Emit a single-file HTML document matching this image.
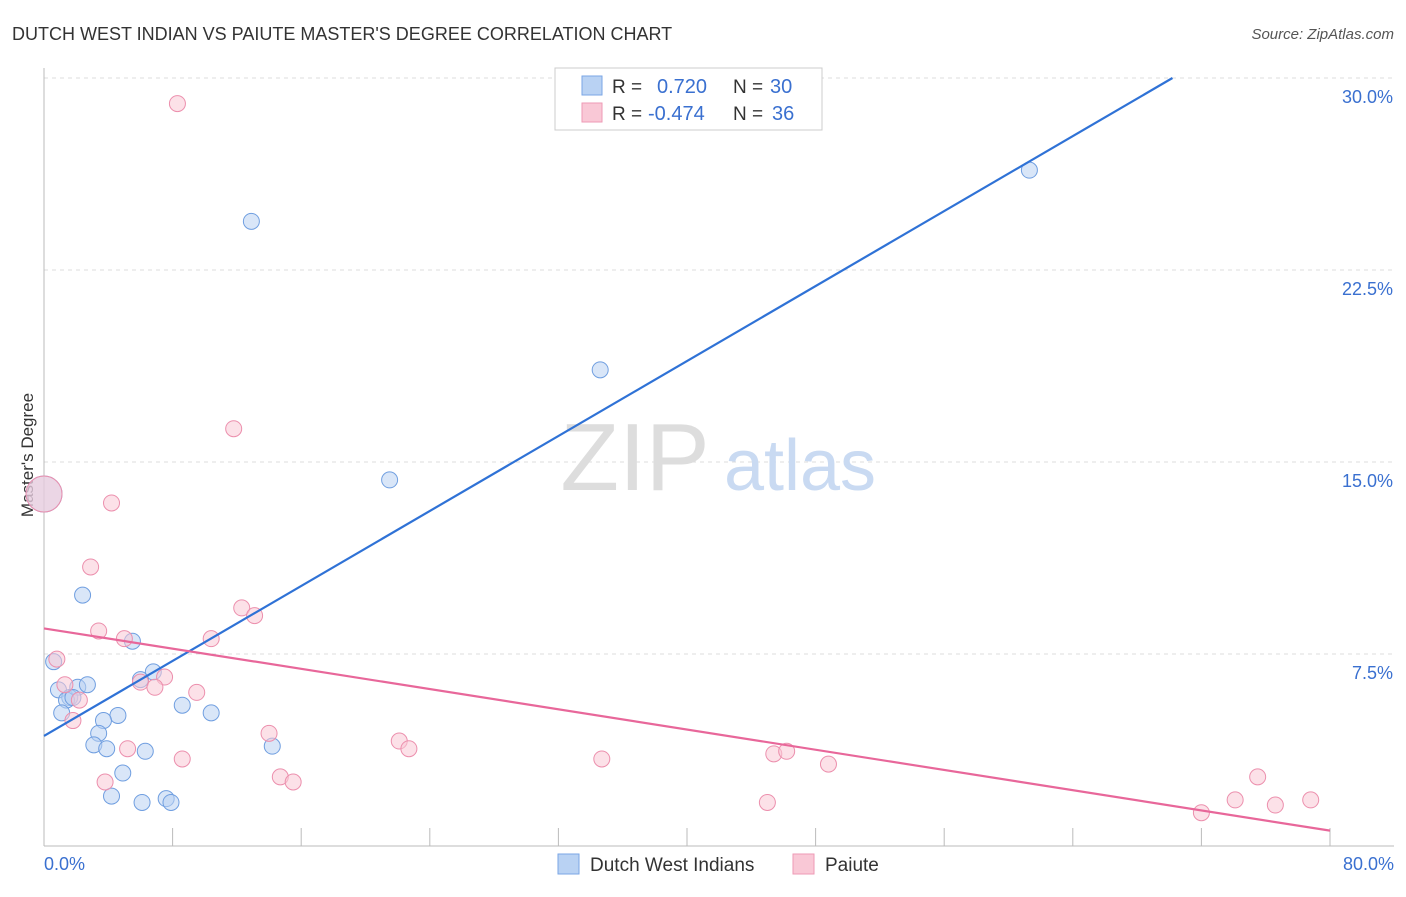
<!DOCTYPE html>
<html><head><meta charset="utf-8"><style>
body{margin:0;background:#fff;font-family:"Liberation Sans",sans-serif;}
svg text{font-family:"Liberation Sans",sans-serif;}
</style></head><body>
<svg width="1406" height="892">
<text x="12" y="40" font-size="18" fill="#333">DUTCH WEST INDIAN VS PAIUTE MASTER'S DEGREE CORRELATION CHART</text>
<text x="1394" y="39" font-size="15" fill="#555" font-style="italic" text-anchor="end">Source: ZipAtlas.com</text>
<g id="grid"></g>
<text x="635" y="490" font-size="96" fill="#ddd" font-family="Liberation Serif" text-anchor="middle">ZIP</text>
<text x="800" y="490" font-size="72" fill="#c9daf2" text-anchor="middle">atlas</text>
<text transform="translate(33,455) rotate(-90)" font-size="17" fill="#333" text-anchor="middle">Master's Degree</text>
<text x="44" y="870" font-size="18" fill="#3a70d0">0.0%</text>
<text x="1394" y="870" font-size="18" fill="#3a70d0" text-anchor="end">80.0%</text>
<g id="points"></g>
<g id="lines"></g>
<g>
<rect x="555" y="68" width="267" height="62" fill="#fff" stroke="#ccc"/>
<rect x="582" y="76" width="20" height="19" fill="#b9d2f3" stroke="#7aa6e6"/>
<text x="612" y="93" font-size="19" fill="#333">R =</text>
<text x="657" y="93" font-size="20" fill="#3a70d0">0.720</text>
<text x="733" y="93" font-size="19" fill="#333">N =</text>
<text x="770" y="93" font-size="20" fill="#3a70d0">30</text>
<rect x="582" y="103" width="20" height="19" fill="#f9c8d6" stroke="#ee9ab5"/>
<text x="612" y="120" font-size="19" fill="#333">R =</text>
<text x="648" y="120" font-size="20" fill="#3a70d0">-0.474</text>
<text x="733" y="120" font-size="19" fill="#333">N =</text>
<text x="772" y="120" font-size="20" fill="#3a70d0">36</text>
</g>
<g>
<rect x="558" y="854" width="21" height="20" fill="#b9d2f3" stroke="#7aa6e6"/>
<text x="590" y="871" font-size="19" fill="#333">Dutch West Indians</text>
<rect x="793" y="854" width="21" height="20" fill="#f9c8d6" stroke="#ee9ab5"/>
<text x="825" y="871" font-size="19" fill="#333">Paiute</text>
</g>
</svg>
<script>
const yTicks=[7.5,15,22.5,30];
const yTickLabels=["7.5%","15.0%","22.5%","30.0%"];
const xTicks=[0,8,16,24,32,40,48,56,64,72,80];
const blueX=[12.9,61.3,34.6,21.5,0,2.4,5.5,0.6,6.8,6,0.9,2.1,2.7,1.6,1.4,1.8,1.1,4.6,3.7,8.6,10.4,3.4,3.1,3.9,6.3,14.2,4.9,4.2,6.1,7.6,7.9];
const blueY=[24.4,26.4,18.6,14.3,13.75,9.8,8,7.2,6.8,6.5,6.1,6.2,6.3,5.8,5.7,5.8,5.2,5.1,4.9,5.5,5.2,4.4,3.95,3.8,3.7,3.9,2.85,1.95,1.7,1.85,1.7];
const pinkX=[8.3,11.8,4.2,2.9,12.3,13.1,3.4,5.0,10.4,0.8,1.3,2.2,6.0,7.5,6.9,9.5,1.8,14.0,5.2,8.6,22.1,22.7,34.7,14.7,15.5,3.8,45.4,46.2,48.8,45.0,75.5,74.1,76.6,78.8,72.0,0];
const pinkY=[29.0,16.3,13.4,10.9,9.3,9.0,8.4,8.1,8.1,7.3,6.3,5.7,6.4,6.6,6.2,6.0,4.9,4.4,3.8,3.4,4.1,3.8,3.4,2.7,2.5,2.5,3.6,3.7,3.2,1.7,2.7,1.8,1.6,1.8,1.3,13.75];
const blueLine=[[0,4.3],[70.2,30]];
const pinkLine=[[0,8.5],[80,0.6]];
const X0=44,X1=1330,Y0=846,Y1=78;
const xs=v=>X0+v/80*(X1-X0), ys=v=>Y0-v/30*(Y0-Y1);
const NS="http://www.w3.org/2000/svg";
const g=document.getElementById('grid');
function mk(t,a,p){const e=document.createElementNS(NS,t);for(const k in a)e.setAttribute(k,a[k]);p.appendChild(e);return e;}
yTicks.forEach((t,i)=>{
 const l=mk('line',{x1:X0,x2:1394,y1:ys(t),y2:ys(t),stroke:'#ddd','stroke-dasharray':'4,4'},g);
 
 
 const tx=mk('text',{x:1393,y:ys(t)+25,'font-size':18,fill:'#3a70d0','text-anchor':'end'},g);
 tx.textContent=yTickLabels[i];
 
 
});
const ax=mk('line',{x1:X0,x2:X0,y1:68,y2:Y0,stroke:'#bbb'},g);


const bx=mk('line',{x1:X0,x2:1394,y1:Y0,y2:Y0,stroke:'#bbb'},g);


xTicks.forEach(t=>{
 const l=mk('line',{x1:xs(t),x2:xs(t),y1:Y0,y2:Y0-18,stroke:'#bbb'},g);
 
 
});
const pg=document.getElementById('points');
function pts(X,Y,fill,stroke,name){X.forEach((x,i)=>{
 const big=(x===0&&Y[i]>13);
 const c=mk('circle',{cx:xs(x),cy:ys(Y[i]),r:big?18:8,fill:fill,'fill-opacity':0.55,stroke:stroke,'stroke-width':1},pg);
 
 
});}
pts(blueX,blueY,'#b9d2f3','#6f9ee0','dutch-west-indian-point');
pts(pinkX,pinkY,'#f9c8d6','#ec8fad','paiute-point');
const lg=document.getElementById('lines');
const b=mk('line',{x1:xs(blueLine[0][0]),y1:ys(blueLine[0][1]),x2:xs(blueLine[1][0]),y2:ys(blueLine[1][1]),stroke:'#2f72d6','stroke-width':2.2},lg);


const p=mk('line',{x1:xs(pinkLine[0][0]),y1:ys(pinkLine[0][1]),x2:xs(pinkLine[1][0]),y2:ys(pinkLine[1][1]),stroke:'#e8679a','stroke-width':2.2},lg);


</script>
</body></html>
